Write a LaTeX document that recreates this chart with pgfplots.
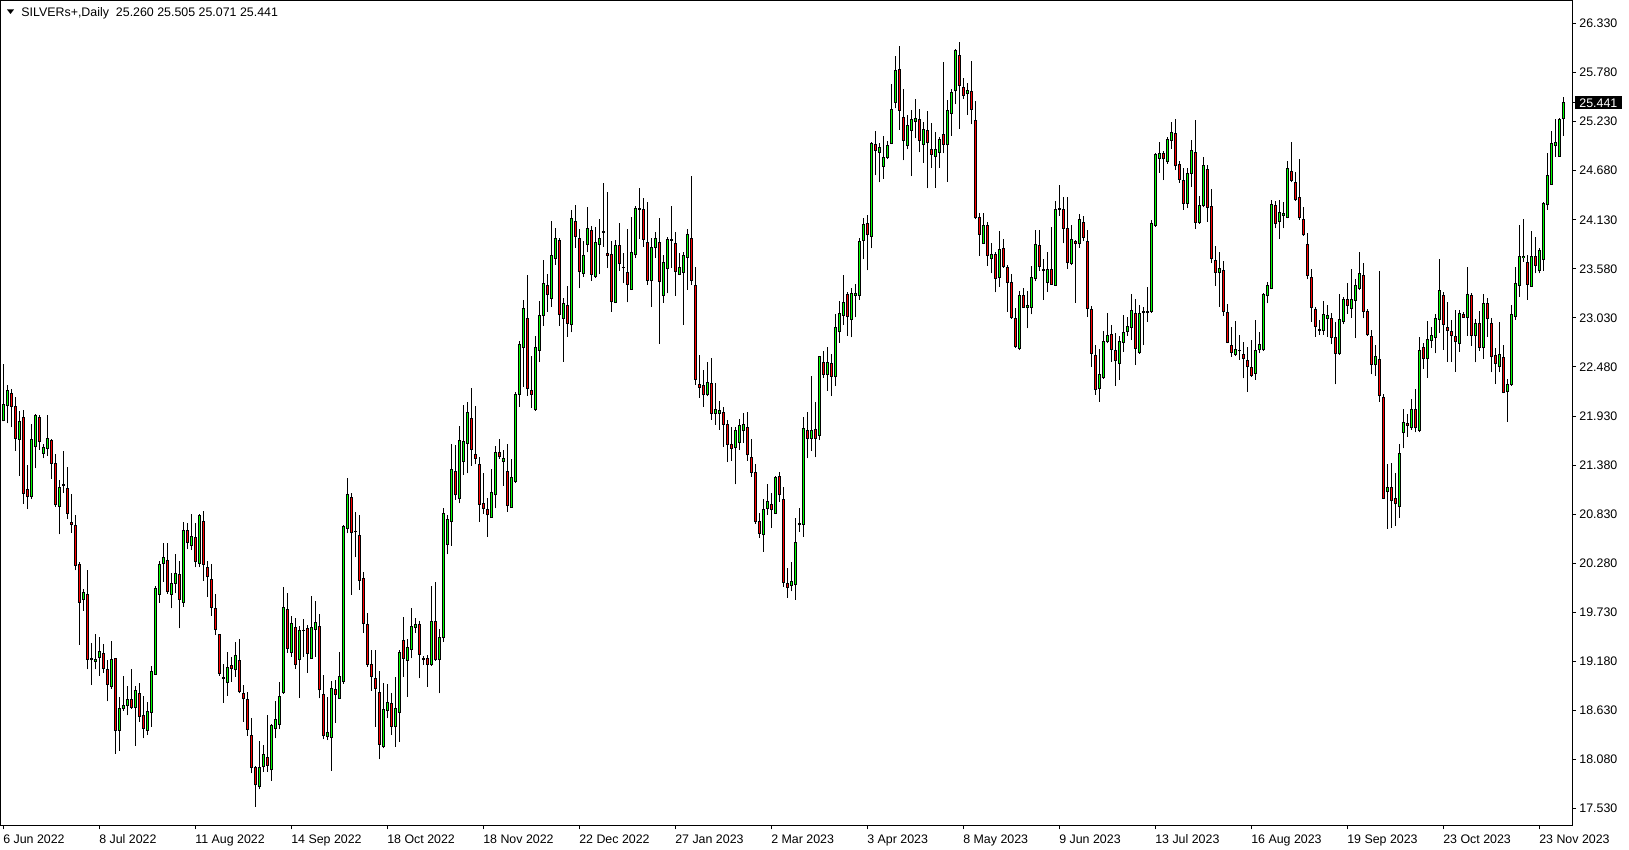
\documentclass[border=0pt]{standalone}
\usepackage{fontspec}
\setmainfont{Liberation Sans}
\usepackage{pgfplots}
\usepackage{pgfplotstable}
\pgfplotsset{compat=1.18}
\definecolor{cgreen}{RGB}{0,255,0}
\definecolor{cred}{RGB}{255,0,0}
\pgfplotstableread{
i o h l c
0 21.875 22.514 21.870 22.054
1 22.043 22.279 21.849 22.215
2 22.178 22.230 21.804 22.036
3 22.036 22.140 21.542 21.681
4 21.670 21.987 21.262 21.864
5 21.916 21.995 20.945 21.064
6 21.109 21.382 20.885 21.027
7 21.027 21.841 20.997 21.670
8 21.587 21.954 21.344 21.939
9 21.916 21.939 21.550 21.643
10 21.513 21.617 21.456 21.580
11 21.565 21.942 21.483 21.677
12 21.651 21.670 21.229 21.400
13 21.400 21.501 20.915 20.933
14 20.915 21.214 20.604 21.131
15 21.160 21.539 21.072 21.150
16 21.120 21.363 20.773 20.840
17 20.739 21.057 20.623 20.713
18 20.705 20.821 20.201 20.257
19 20.268 20.298 19.368 19.842
20 19.876 19.988 19.749 19.951
21 19.932 20.205 19.091 19.203
22 19.210 19.383 18.912 19.200
23 19.181 19.487 19.091 19.203
24 19.226 19.457 19.016 19.285
25 19.270 19.375 19.054 19.098
26 19.084 19.196 18.732 18.919
27 18.897 19.409 18.874 19.203
28 19.214 19.220 18.142 18.403
29 18.403 18.785 18.179 18.654
30 18.650 19.016 18.628 18.687
31 18.680 18.904 18.575 18.747
32 18.755 19.091 18.643 18.665
33 18.665 18.900 18.231 18.848
34 18.821 18.941 18.504 18.560
35 18.575 18.792 18.317 18.425
36 18.410 18.724 18.354 18.623
37 18.605 19.128 18.448 19.064
38 19.034 20.029 19.030 19.999
39 19.931 20.309 19.838 20.271
40 20.279 20.511 20.073 20.346
41 20.309 20.511 19.935 19.961
42 19.931 20.167 19.774 20.055
43 20.055 20.384 19.943 20.167
44 20.156 20.309 19.550 19.875
45 19.842 20.739 19.793 20.645
46 20.645 20.735 20.436 20.514
47 20.484 20.828 20.428 20.578
48 20.570 20.735 20.234 20.298
49 20.279 20.832 20.234 20.810
50 20.750 20.866 20.085 20.271
51 20.234 20.309 19.905 20.129
52 20.100 20.271 19.692 19.786
53 19.774 19.935 19.475 19.539
54 19.483 19.490 19.016 19.042
55 19.000 19.150 18.717 18.990
56 18.941 19.281 18.792 19.113
57 19.128 19.225 18.952 19.098
58 19.083 19.393 19.008 19.240
59 19.184 19.427 18.820 18.840
60 18.821 18.915 18.504 18.758
61 18.747 18.840 18.343 18.418
62 18.354 18.541 17.925 17.988
63 17.988 18.006 17.551 17.794
64 17.775 18.291 17.745 17.988
65 17.999 18.242 17.943 18.138
66 18.100 18.578 17.943 18.014
67 17.962 18.477 17.842 18.455
68 18.429 18.739 18.317 18.530
69 18.474 18.952 18.418 18.784
70 18.829 20.017 18.814 19.785
71 19.763 19.942 19.277 19.326
72 19.277 19.688 19.232 19.606
73 19.561 19.662 19.098 19.146
74 19.202 19.576 18.773 19.524
75 19.530 19.651 19.232 19.520
76 19.550 19.587 19.053 19.270
77 19.214 19.912 19.210 19.561
78 19.542 19.856 19.232 19.617
79 19.576 19.711 18.765 18.859
80 18.810 19.027 18.305 18.343
81 18.335 18.776 18.298 18.380
82 18.328 18.959 17.954 18.877
83 18.859 18.971 18.492 18.810
84 18.765 19.285 18.760 19.008
85 18.952 20.710 18.926 20.697
86 20.671 21.231 20.615 21.045
87 21.018 21.063 19.924 20.622
88 20.640 20.858 20.346 20.630
89 20.596 20.820 19.980 20.084
90 20.103 20.178 19.501 19.606
91 19.598 19.725 19.120 19.146
92 19.139 19.307 18.851 19.015
93 18.989 19.307 18.447 18.877
94 18.832 19.075 18.081 18.249
95 18.223 18.933 18.205 18.642
96 18.627 18.930 18.541 18.717
97 18.709 18.821 18.354 18.447
98 18.447 19.001 18.223 18.653
99 18.609 19.308 18.280 19.282
100 19.416 19.682 19.009 19.214
101 19.192 19.431 18.785 19.334
102 19.315 19.775 19.214 19.573
103 19.558 19.663 19.495 19.595
104 19.595 19.633 18.990 19.259
105 19.210 19.240 19.140 19.200
106 19.214 19.252 18.897 19.147
107 19.147 20.029 19.132 19.625
108 19.625 20.066 19.185 19.196
109 19.203 19.543 18.822 19.446
110 19.446 20.896 19.401 20.840
111 20.492 20.821 20.380 20.773
112 20.746 21.613 20.477 21.333
113 21.307 21.605 20.989 21.045
114 21.008 21.819 20.952 21.658
115 21.419 22.054 21.270 21.643
116 21.625 22.092 21.288 21.972
117 21.905 22.241 21.374 21.557
118 21.501 22.043 21.389 21.456
119 21.389 21.475 20.746 20.941
120 20.952 21.288 20.829 20.896
121 20.885 21.008 20.578 20.821
122 20.791 21.337 20.790 21.075
123 21.045 21.595 20.896 21.524
124 21.524 21.673 21.449 21.475
125 21.419 21.550 21.150 21.449
126 21.307 21.613 20.859 20.926
127 20.903 21.449 20.900 21.240
128 21.195 22.204 21.180 22.174
129 22.174 22.772 22.036 22.735
130 22.697 23.232 22.260 23.131
131 23.026 23.512 22.159 22.241
132 22.217 22.603 22.020 22.174
133 22.001 22.822 21.990 22.702
134 22.667 23.224 22.533 23.052
135 23.056 23.680 22.944 23.411
136 23.388 23.519 23.101 23.295
137 23.250 24.117 23.157 23.725
138 23.699 24.035 23.624 23.923
139 23.900 23.930 22.944 23.071
140 23.026 23.250 22.540 23.194
141 23.172 23.392 22.820 22.970
142 22.951 24.241 22.869 24.140
143 24.110 24.297 23.818 23.945
144 23.923 24.028 23.362 23.549
145 23.530 23.893 23.493 23.725
146 23.856 24.270 23.766 24.035
147 24.005 24.061 23.445 23.519
148 23.493 24.054 23.480 23.878
149 23.856 24.140 23.519 23.923
150 24.000 24.539 23.829 23.990
151 23.755 24.446 23.587 23.729
152 23.736 23.893 23.101 23.213
153 23.202 23.904 23.195 23.837
154 23.837 24.091 23.557 23.643
155 23.600 23.755 23.418 23.590
156 23.542 24.028 23.205 23.407
157 23.351 24.166 23.350 23.766
158 23.736 24.289 23.699 24.259
159 24.260 24.491 23.915 24.250
160 24.241 24.371 23.829 23.912
161 23.878 24.326 23.400 23.448
162 23.445 23.923 23.157 23.822
163 23.822 23.990 23.699 23.923
164 23.878 24.155 22.738 23.437
165 23.280 23.736 23.202 23.654
166 23.579 23.942 23.306 23.904
167 23.910 24.285 23.587 23.900
168 23.867 23.998 23.280 23.549
169 23.519 23.755 23.510 23.594
170 23.542 23.766 22.951 23.725
171 23.706 24.028 23.344 23.960
172 23.923 24.622 23.400 23.448
173 23.392 23.598 22.279 22.342
174 22.279 22.615 22.137 22.252
175 22.267 22.447 22.036 22.167
176 22.167 22.533 22.150 22.309
177 22.297 22.585 21.886 21.961
178 21.961 22.297 21.830 22.006
179 21.961 22.099 21.774 21.987
180 21.972 22.036 21.587 21.838
181 21.838 21.886 21.412 21.613
182 21.613 21.812 21.427 21.569
183 21.576 21.810 21.165 21.763
184 21.636 21.897 21.550 21.819
185 21.763 21.961 21.625 21.830
186 21.804 21.972 21.427 21.494
187 21.468 21.673 21.251 21.300
188 21.300 21.389 20.717 20.746
189 20.746 20.840 20.560 20.616
190 20.597 20.997 20.410 20.885
191 20.896 21.169 20.821 20.971
192 20.941 21.064 20.672 20.885
193 20.840 21.262 20.830 21.244
194 21.251 21.300 20.971 21.045
195 20.997 21.139 20.018 20.066
196 20.055 20.231 19.894 20.007
197 20.029 20.292 19.963 20.070
198 20.045 20.785 19.872 20.509
199 20.720 20.900 20.633 20.710
200 20.715 21.919 20.579 21.792
201 21.771 21.977 21.455 21.681
202 21.681 22.380 21.537 21.763
203 21.784 22.092 21.467 21.681
204 21.714 22.606 21.660 22.593
205 22.532 22.659 22.359 22.400
206 22.400 22.708 22.215 22.532
207 22.523 22.626 22.153 22.371
208 22.371 23.070 22.264 22.926
209 22.873 23.222 22.749 23.078
210 23.058 23.510 22.955 23.202
211 23.296 23.325 22.832 23.050
212 23.017 23.366 22.811 23.304
213 23.284 23.407 23.037 23.304
214 23.284 23.921 23.234 23.888
215 23.900 24.147 23.687 24.073
216 24.085 24.188 23.563 23.962
217 23.941 25.002 23.810 24.981
218 24.969 25.125 24.628 24.907
219 24.887 24.990 24.550 24.936
220 24.731 25.072 24.591 24.833
221 24.833 25.010 24.813 24.961
222 24.990 25.647 24.977 25.368
223 25.450 25.964 25.380 25.799
224 25.812 26.079 25.142 25.359
225 25.277 25.594 24.796 25.018
226 24.961 25.306 24.920 25.183
227 25.133 25.359 24.620 25.257
228 25.232 25.483 25.043 25.265
229 25.257 25.368 24.887 25.018
230 24.976 25.223 24.771 25.137
231 25.126 25.350 24.483 24.999
232 24.920 25.212 24.715 24.864
233 24.845 25.111 24.491 24.913
234 24.887 25.062 24.715 25.025
235 25.088 25.896 24.875 24.976
236 24.969 25.473 24.558 25.354
237 25.324 25.597 25.073 25.559
238 25.574 26.045 25.425 26.023
239 25.970 26.127 25.148 25.634
240 25.615 25.716 25.485 25.522
241 25.541 25.660 25.305 25.578
242 25.567 25.911 25.201 25.369
243 25.242 25.462 24.135 24.154
244 24.154 24.203 23.728 23.967
245 23.866 24.203 23.860 24.064
246 24.064 24.109 23.616 23.728
247 23.691 23.866 23.530 23.736
248 23.736 23.766 23.317 23.474
249 23.485 24.005 23.381 23.799
250 23.810 23.915 23.590 23.605
251 23.598 23.625 23.100 23.429
252 23.429 23.519 23.020 23.033
253 23.026 23.138 22.690 22.708
254 22.690 23.332 22.670 23.280
255 23.280 23.362 23.140 23.145
256 23.145 23.332 22.914 23.168
257 23.150 23.612 23.070 23.482
258 23.474 24.016 23.440 23.855
259 23.837 24.016 23.556 23.605
260 23.570 23.691 23.231 23.560
261 23.429 23.773 23.325 23.575
262 23.575 24.053 23.400 23.407
263 23.395 24.345 23.390 24.247
264 24.260 24.520 24.173 24.250
265 24.240 24.382 23.866 24.034
266 24.027 24.382 23.578 23.649
267 23.642 24.072 23.620 23.911
268 23.892 23.904 23.201 23.866
269 23.866 24.195 23.818 24.135
270 24.102 24.173 23.892 23.933
271 23.892 24.016 23.044 23.138
272 23.127 23.164 22.484 22.633
273 22.614 22.726 22.166 22.229
274 22.241 22.678 22.091 22.398
275 22.364 22.887 22.350 22.771
276 22.764 23.081 22.745 22.835
277 22.846 22.951 22.540 22.678
278 22.670 22.865 22.267 22.551
279 22.521 22.827 22.334 22.771
280 22.756 23.063 22.652 22.868
281 22.876 23.044 22.828 22.939
282 22.925 23.298 22.782 23.108
283 23.081 23.238 22.502 22.685
284 22.644 23.175 22.630 23.074
285 23.100 23.156 22.726 23.090
286 23.095 23.380 22.988 23.105
287 23.100 24.128 23.090 24.090
288 24.064 24.875 24.050 24.857
289 24.819 24.999 24.658 24.875
290 24.868 24.905 24.576 24.812
291 24.789 25.062 24.756 25.032
292 25.017 25.223 24.924 25.107
293 25.099 25.256 24.688 24.733
294 24.752 24.789 24.546 24.584
295 24.576 24.707 24.240 24.315
296 24.315 24.707 24.259 24.651
297 24.651 25.025 24.502 24.902
298 24.887 25.250 24.027 24.102
299 24.102 24.397 24.083 24.289
300 24.289 24.831 24.270 24.733
301 24.696 24.745 24.109 24.270
302 24.278 24.472 23.642 23.698
303 23.668 23.837 23.388 23.538
304 23.538 23.773 23.156 23.586
305 23.556 23.668 23.052 23.100
306 23.093 23.186 22.745 22.757
307 22.716 22.925 22.596 22.641
308 22.622 22.996 22.603 22.678
309 22.670 22.839 22.559 22.660
310 22.615 22.764 22.353 22.577
311 22.547 22.708 22.204 22.484
312 22.476 22.783 22.372 22.383
313 22.409 23.007 22.334 22.659
314 22.671 22.876 22.633 22.734
315 22.671 23.313 22.660 23.295
316 23.276 23.437 23.194 23.388
317 23.362 24.352 23.350 24.296
318 24.285 24.341 24.035 24.091
319 24.109 24.352 23.911 24.214
320 24.177 24.334 24.035 24.203
321 24.158 24.789 24.147 24.700
322 24.670 25.006 24.550 24.576
323 24.550 24.670 24.345 24.360
324 24.382 24.812 24.128 24.154
325 24.136 24.270 23.949 23.960
326 23.848 23.986 23.463 23.504
327 23.485 23.575 22.988 23.149
328 23.119 23.157 22.820 22.932
329 22.900 23.007 22.839 22.890
330 22.888 23.220 22.839 23.063
331 23.026 23.175 22.820 23.052
332 23.018 23.082 22.734 22.809
333 22.813 22.981 22.286 22.630
334 22.633 23.295 22.615 23.007
335 22.988 23.269 22.958 23.231
336 23.231 23.418 23.074 23.168
337 23.138 23.579 23.033 23.231
338 23.224 23.467 22.802 23.388
339 23.362 23.766 23.343 23.530
340 23.500 23.642 23.026 23.100
341 23.100 23.130 22.831 22.839
342 22.817 22.895 22.398 22.503
343 22.503 22.727 22.383 22.596
344 22.566 23.560 22.092 22.159
345 22.140 22.174 21.000 21.008
346 21.083 21.393 20.664 21.131
347 21.131 21.400 20.672 20.982
348 21.008 21.296 20.701 20.948
349 20.915 21.617 20.791 21.512
350 21.744 22.009 21.568 21.856
351 21.849 21.953 21.699 21.823
352 21.800 22.122 21.774 22.006
353 22.006 22.234 21.748 21.800
354 21.767 22.813 21.748 22.663
355 22.701 22.745 22.458 22.570
356 22.570 22.996 22.361 22.783
357 22.775 22.932 22.697 22.828
358 22.813 23.074 22.633 23.026
359 23.015 23.691 22.858 23.332
360 23.276 23.317 22.671 22.958
361 22.920 23.212 22.540 22.887
362 22.883 23.006 22.540 22.831
363 22.820 23.119 22.427 22.764
364 22.745 23.119 22.651 23.081
365 23.063 23.093 23.033 23.037
366 23.037 23.604 22.831 23.287
367 23.276 23.313 22.719 22.831
368 22.831 23.014 22.532 22.969
369 22.969 23.107 22.663 22.696
370 22.696 23.298 22.569 23.193
371 23.193 23.249 22.820 23.018
372 22.969 23.025 22.420 22.595
373 22.607 22.689 22.289 22.521
374 22.483 22.988 22.420 22.622
375 22.588 22.726 22.185 22.192
376 22.203 22.345 21.867 22.285
377 22.285 23.175 22.270 23.070
378 23.044 23.604 23.007 23.418
379 23.392 24.072 23.268 23.717
380 23.705 24.139 23.660 23.724
381 23.649 23.735 23.231 23.407
382 23.380 24.008 23.380 23.724
383 23.717 23.933 23.530 23.623
384 23.556 23.810 23.530 23.784
385 23.690 24.326 23.556 24.307
386 24.296 24.875 24.240 24.621
387 24.527 25.125 24.520 24.987
388 24.961 25.256 24.838 24.998
389 24.845 25.267 24.838 25.249
390 25.260 25.505 25.071 25.441
}\candles
\def\dd{0.0056}
\pgfplotsset{candle/.style={only marks, mark=text, text mark={}, forget plot,
  error bars/.cd, y dir=plus, y explicit, error mark=none, error bar style={#1}}}
\begin{document}
\fontsize{6.2pt}{7.4pt}\selectfont
\begin{tikzpicture}
\useasboundingbox (0,0) rectangle (814.5pt,425pt);
\begin{axis}[
  at={(0.5pt,12pt)}, anchor=south west,
  scale only axis, width=785.85pt, height=412.5pt,
  xmin=-0.575, xmax=392.35, ymin=17.334, ymax=26.583,
  axis line style={line width=0.5pt, black},
  xtick={0,24,...,384},
  xticklabels={6 Jun 2022,8 Jul 2022,11 Aug 2022,14 Sep 2022,18 Oct 2022,18 Nov 2022,22 Dec 2022,27 Jan 2023,2 Mar 2023,3 Apr 2023,8 May 2023,9 Jun 2023,13 Jul 2023,16 Aug 2023,19 Sep 2023,23 Oct 2023,23 Nov 2023},
  xtick pos=bottom,
  ytick={17.53,18.08,18.63,19.18,19.73,20.28,20.83,21.38,21.93,22.48,23.03,23.58,24.13,24.68,25.23,25.78,26.33},
  ytick pos=right, yticklabel pos=right,
  tick align=outside, major tick length=1.75pt,
  tick style={line width=0.5pt, black},
  scaled y ticks=false,
  /pgf/number format/.cd, fixed, fixed zerofill, precision=3, assume math mode=true, /pgfplots/.cd,
  xticklabel style={anchor=base west, inner sep=0pt, xshift=-0.2pt, yshift=-7.25pt, font=\fontsize{6.2pt}{7.4pt}\selectfont},
  yticklabel style={anchor=west, inner xsep=2.35pt, inner ysep=1pt, xshift=-0.95pt, font=\fontsize{6.2pt}{7.4pt}\selectfont},
  extra y ticks={25.441},
  extra y tick style={yticklabel style={fill=black, text=white}},
  clip=true,
]
% wicks
\addplot[candle={line width=0.5pt, black}]
  table[x=i, y=l, y error plus expr={\thisrow{h}-\thisrow{l}}] {\candles};
% body outlines
\addplot[candle={line width=1.5pt, black}]
  table[x=i, y expr={min(\thisrow{o},\thisrow{c})-\dd}, y error plus expr={abs(\thisrow{c}-\thisrow{o})+2*\dd}] {\candles};
% bullish fill
\addplot[unbounded coords=discard, candle={line width=0.5pt, cgreen}]
  table[x=i, y expr={\thisrow{c}>\thisrow{o} ? \thisrow{o}+\dd : nan}, y error plus expr={max(\thisrow{c}-\thisrow{o}-2*\dd,0)}] {\candles};
% bearish fill
\addplot[unbounded coords=discard, candle={line width=0.5pt, cred}]
  table[x=i, y expr={\thisrow{o}>\thisrow{c} ? \thisrow{c}+\dd : nan}, y error plus expr={max(\thisrow{o}-\thisrow{c}-2*\dd,0)}] {\candles};
\end{axis}
\fill (3.5pt,420.25pt) -- (7pt,420.25pt) -- (5.25pt,418pt) -- cycle;
\node[anchor=base west, inner sep=0pt] at (10.5pt,416.7pt) {SILVERs+,Daily\hspace{0.56em}25.260 25.505 25.071 25.441};
\end{tikzpicture}
\end{document}
